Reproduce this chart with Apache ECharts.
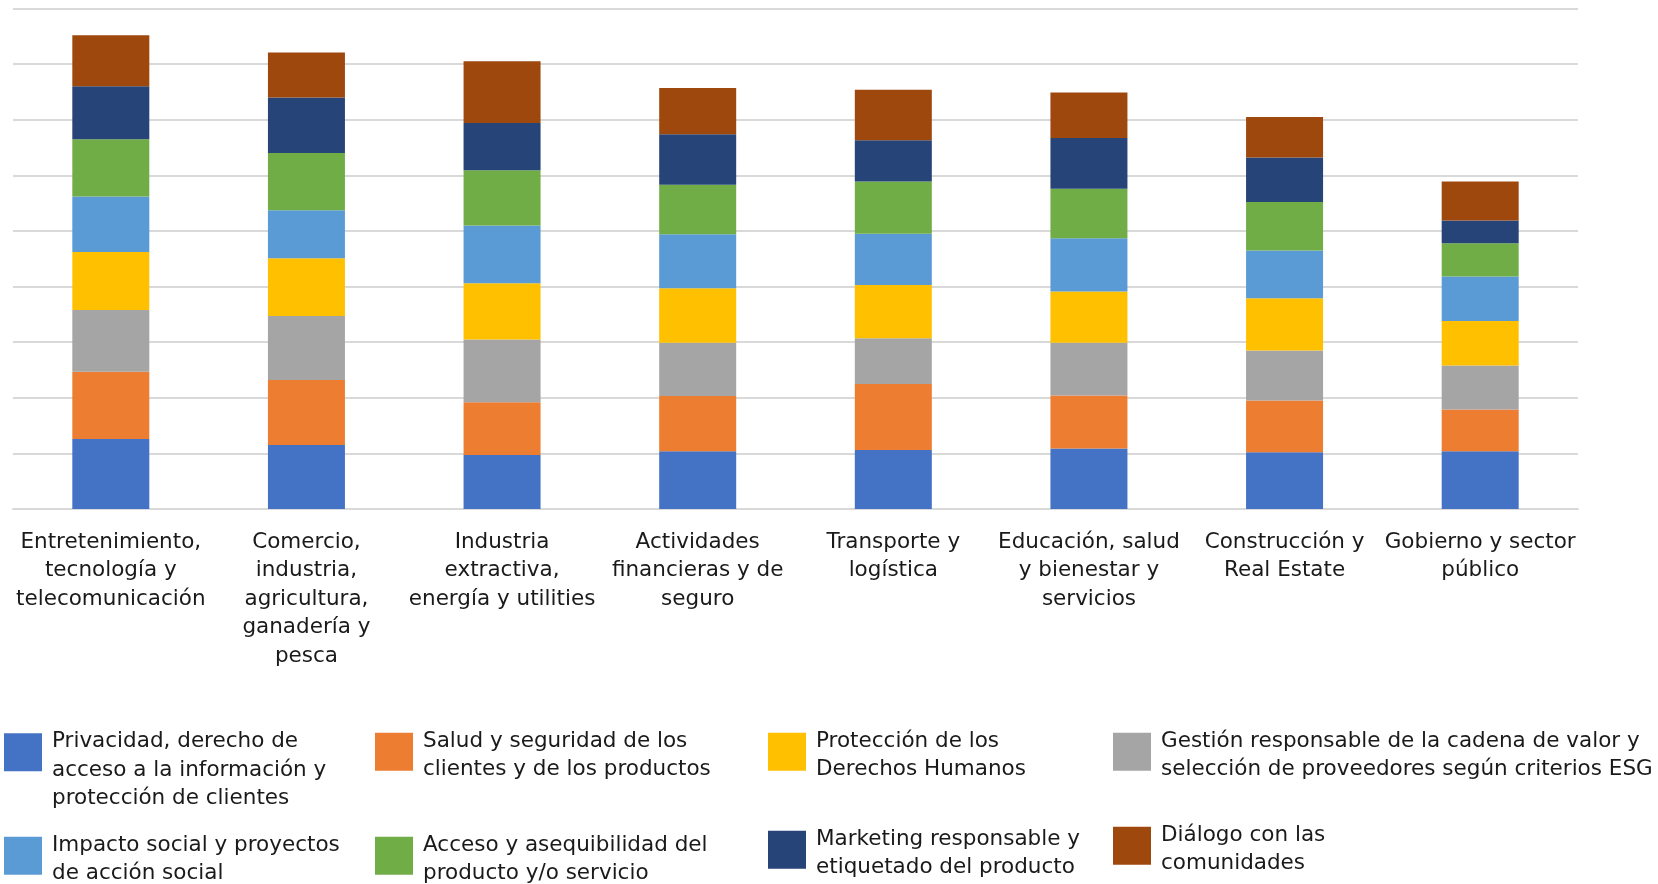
<!DOCTYPE html>
<html>
<head>
<meta charset="utf-8">
<script src="https://cdn.jsdelivr.net/npm/echarts@6/dist/echarts.min.js"></script>
<style>
  html, body { margin: 0; padding: 0; background: #fff; }
  #chart { width: 1658px; height: 884px; }
</style>
</head>
<body>
<div id="chart"></div>
<script>
// sectores (eje x)
const categories = [
  "Entretenimiento,\ntecnología y\ntelecomunicación",
  "Comercio,\nindustria,\nagricultura,\nganadería y\npesca",
  "Industria\nextractiva,\nenergía y utilities",
  "Actividades\nfinancieras y de\nseguro",
  "Transporte y\nlogística",
  "Educación, salud\ny bienestar y\nservicios",
  "Construcción y\nReal Estate",
  "Gobierno y sector\npúblico"
];

// temas, de abajo hacia arriba en la pila
const privacidad = [1.26, 1.15, 0.97, 1.04, 1.06, 1.09, 1.02, 1.04];
const salud      = [1.21, 1.17, 0.95, 0.99, 1.19, 0.95, 0.93, 0.75];
const gestion    = [1.11, 1.15, 1.13, 0.96, 0.82, 0.95, 0.90, 0.79];
const proteccion = [1.04, 1.04, 1.01, 0.98, 0.96, 0.92, 0.94, 0.80];
const impacto    = [1.00, 0.86, 1.04, 0.97, 0.92, 0.96, 0.86, 0.80];
const acceso     = [1.03, 1.03, 0.99, 0.89, 0.94, 0.89, 0.87, 0.60];
const marketing  = [0.95, 1.00, 0.85, 0.91, 0.74, 0.91, 0.80, 0.41];
const dialogo    = [0.92, 0.81, 1.11, 0.83, 0.91, 0.82, 0.73, 0.70];

const seriesNames = [
  "Privacidad, derecho de acceso a la información y protección de clientes",
  "Salud y seguridad de los clientes y de los productos",
  "Gestión responsable de la cadena de valor y selección de proveedores según criterios ESG",
  "Protección de los Derechos Humanos",
  "Impacto social y proyectos de acción social",
  "Acceso y asequibilidad del producto y/o servicio",
  "Marketing responsable y etiquetado del producto",
  "Diálogo con las comunidades"
];
// texto de la leyenda tal como se corta en la imagen
// (la primera lleva una línea vacía delante para que baje respecto al cuadro)
const legendLabels = [
  "\nPrivacidad, derecho de\nacceso a la información y\nprotección de clientes",
  "Salud y seguridad de los\nclientes y de los productos",
  "Gestión responsable de la cadena de valor y\nselección de proveedores según criterios ESG",
  "Protección de los\nDerechos Humanos",
  "Impacto social y proyectos\nde acción social",
  "Acceso y asequibilidad del\nproducto y/o servicio",
  "Marketing responsable y\netiquetado del producto",
  "Diálogo con las\ncomunidades"
];
const seriesData = [privacidad, salud, gestion, proteccion, impacto, acceso, marketing, dialogo];
const colors = ["#4472C4", "#ED7D31", "#A5A5A5", "#FFC000", "#5B9BD5", "#70AD47", "#264478", "#9E480E"];

const FONT = "DejaVu Sans";
const textColor = "#1a1a1a";

// cuadro arriba, con el bbox alargado hacia abajo (el texto queda un poco más bajo)
const squareIcon = "path://M0,0H1V1H0Z M0,1.2";

// una leyenda por entrada, colocada como en el original
function legendItem(i, left, top) {
  return {
    data: [seriesNames[i]],
    left: left,
    top: top,
    padding: 0,
    icon: squareIcon,
    itemWidth: 38,
    itemHeight: 45.6,
    selectedMode: false,
    formatter: () => legendLabels[i],
    textStyle: {
      fontFamily: FONT,
      fontSize: 21.5,
      lineHeight: 28.5,
      color: textColor,
      padding: [0, 0, 0, 5]
    }
  };
}

const chart = echarts.init(document.getElementById("chart"));
const option = {
  animation: false,
  color: colors,
  grid: { left: 13, right: 80, top: 8.5, bottom: 375, containLabel: false },
  legend: [
    legendItem(0, 4, 699),
    legendItem(1, 375, 727),
    legendItem(3, 768, 727),
    legendItem(2, 1113, 727),
    legendItem(4, 4, 831),
    legendItem(5, 375, 831),
    legendItem(6, 768, 825),
    legendItem(7, 1113, 821)
  ],
  xAxis: {
    type: "category",
    data: categories,
    axisTick: { show: false },
    axisLine: { lineStyle: { color: "#d9d9d9", width: 2 } },
    axisLabel: {
      interval: 0,
      margin: 19,
      fontFamily: FONT,
      fontSize: 21.5,
      lineHeight: 28.5,
      color: textColor,
      align: "center"
    }
  },
  yAxis: {
    type: "value",
    min: 0,
    max: 9,
    interval: 1,
    axisLabel: { show: false },
    axisLine: { show: false },
    axisTick: { show: false },
    splitLine: { lineStyle: { color: "#d9d9d9", width: 2 } }
  },
  series: seriesData.map((d, i) => ({
    name: seriesNames[i],
    type: "bar",
    stack: "total",
    barWidth: 77,
    data: d
  }))
};
chart.setOption(option);
</script>
</body>
</html>
